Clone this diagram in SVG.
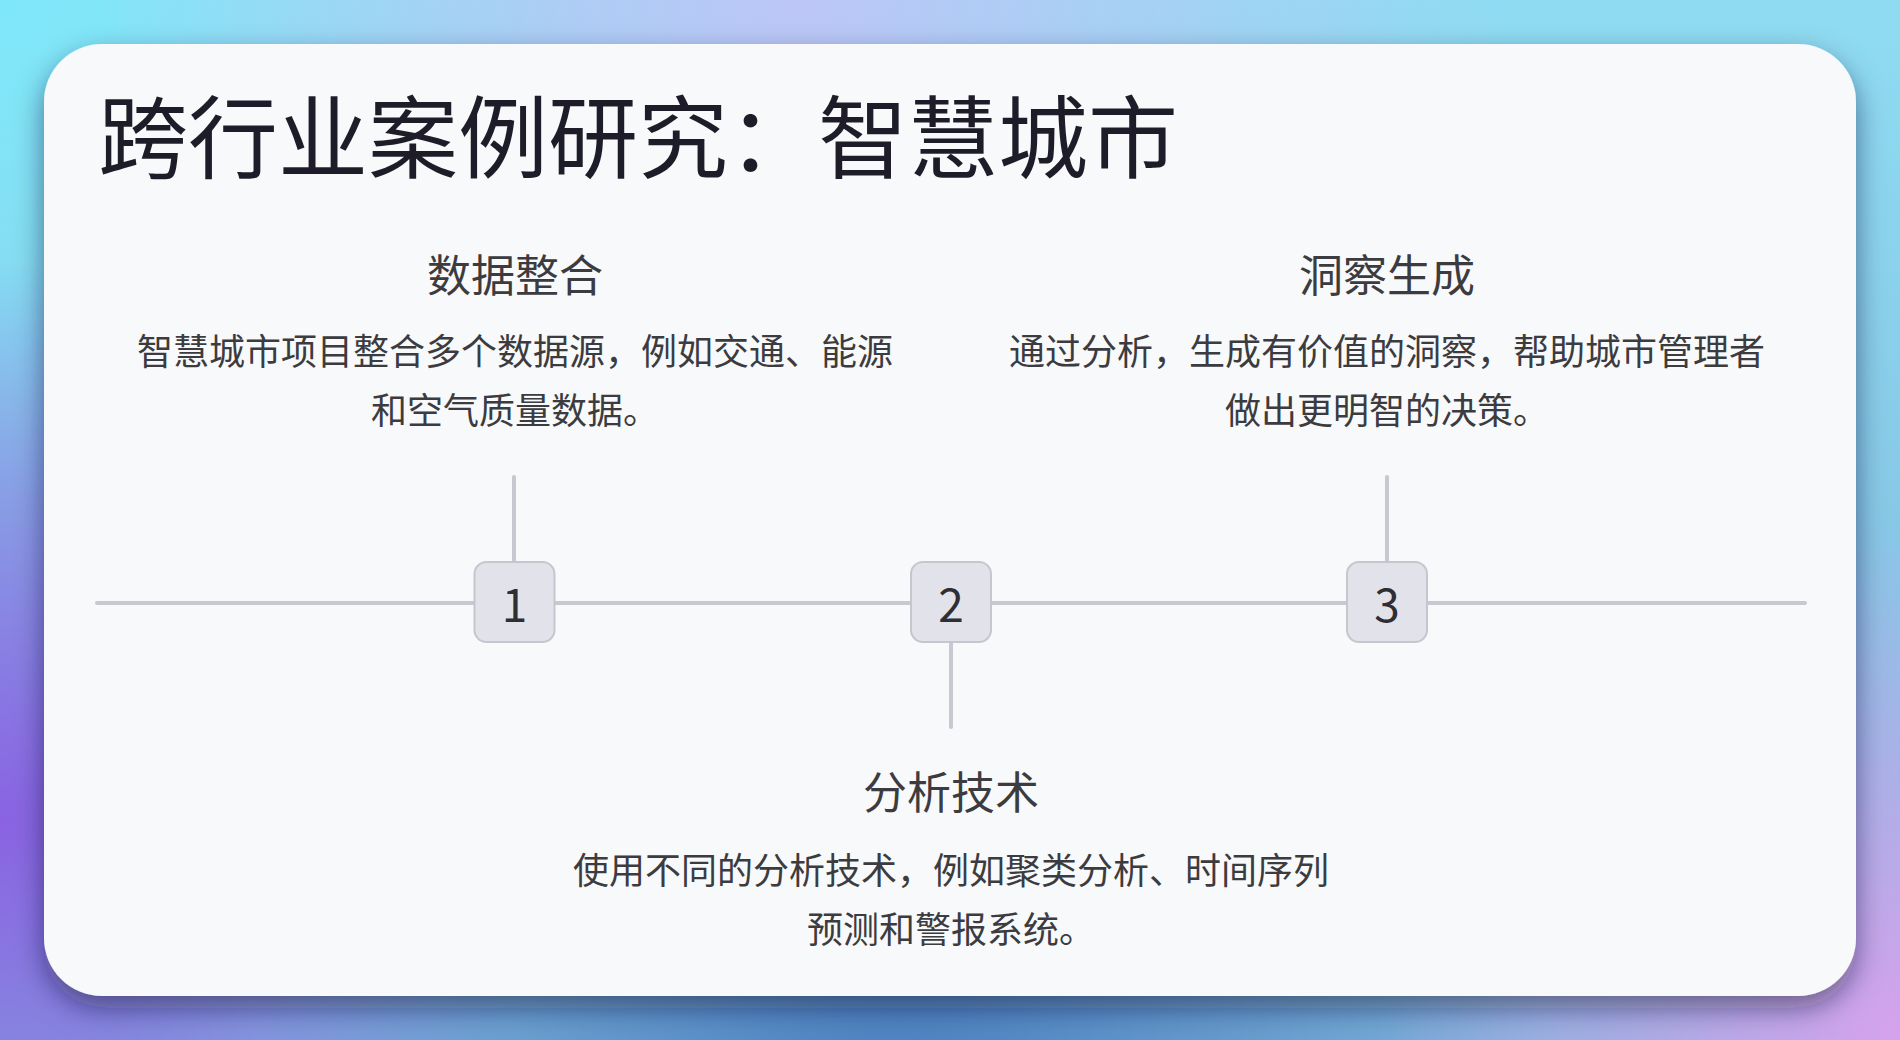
<svg xmlns="http://www.w3.org/2000/svg" width="1900" height="1040" viewBox="0 0 1900 1040">
  <defs>
    <linearGradient id="bgBase" x1="0" y1="0" x2="0" y2="1">
      <stop offset="0" stop-color="#8fdcf2"/>
      <stop offset="1" stop-color="#7fb4dc"/>
    </linearGradient>
    <radialGradient id="bgTop" cx="800" cy="0" r="700" gradientUnits="userSpaceOnUse">
      <stop offset="0" stop-color="#bcc6f7" stop-opacity="1"/>
      <stop offset="1" stop-color="#bcc6f7" stop-opacity="0"/>
    </radialGradient>
    <radialGradient id="bgTL" cx="0" cy="0" r="500" gradientUnits="userSpaceOnUse">
      <stop offset="0" stop-color="#7ee8fa" stop-opacity="1"/>
      <stop offset="1" stop-color="#7ee8fa" stop-opacity="0"/>
    </radialGradient>
    <radialGradient id="bgBL" cx="0" cy="820" r="560" gradientUnits="userSpaceOnUse">
      <stop offset="0" stop-color="#8a62e2" stop-opacity="1"/>
      <stop offset="1" stop-color="#8a62e2" stop-opacity="0"/>
    </radialGradient>
    <radialGradient id="bgBC" cx="900" cy="1100" r="650" gradientUnits="userSpaceOnUse">
      <stop offset="0" stop-color="#4a7fc0" stop-opacity="1"/>
      <stop offset="1" stop-color="#4a7fc0" stop-opacity="0"/>
    </radialGradient>
    <radialGradient id="bgBR" cx="1900" cy="1040" r="520" gradientUnits="userSpaceOnUse">
      <stop offset="0" stop-color="#d6a2ee" stop-opacity="1"/>
      <stop offset="1" stop-color="#d6a2ee" stop-opacity="0"/>
    </radialGradient>
    <filter id="shadow" x="-10%" y="-10%" width="120%" height="125%">
      <feDropShadow dx="0" dy="12" stdDeviation="14" flood-color="#0c1430" flood-opacity="0.5"/>
    </filter>
    <style>
      .title { font-family: "Noto Sans CJK SC", "Noto Sans", sans-serif; font-size: 90px; fill: #1d1c28; }
      .head { font-family: "Noto Sans CJK SC", "Noto Sans", sans-serif; font-size: 44px; fill: #3c3c40; text-anchor: middle; }
      .desc { font-family: "Noto Sans CJK SC", "Noto Sans", sans-serif; font-size: 36px; fill: #3c3c40; text-anchor: middle; }
      .num { font-family: "Noto Sans CJK SC", "Noto Sans", sans-serif; font-size: 46px; fill: #2e2e34; text-anchor: middle; }
      .box { fill: #e2e3ea; stroke: #c6c6ce; stroke-width: 2; }
      .line { stroke: #c8c8d0; stroke-width: 4; stroke-linecap: round; fill: none; }
    </style>
  </defs>

  <g id="background">
    <rect width="1900" height="1040" fill="url(#bgBase)"/>
    <rect width="1900" height="1040" fill="url(#bgTL)"/>
    <rect width="1900" height="1040" fill="url(#bgTop)"/>
    <rect width="1900" height="1040" fill="url(#bgBL)"/>
    <rect width="1900" height="1040" fill="url(#bgBC)"/>
    <rect width="1900" height="1040" fill="url(#bgBR)"/>
  </g>

  <g id="card">
    <rect x="44" y="44" width="1812" height="952" rx="58" ry="58" fill="#f8f9fb" filter="url(#shadow)"/>
  </g>

  <g id="title">
    <text class="title" x="98" y="171">跨行业案例研究：智慧城市</text>
  </g>

  <g id="connectors">
    <line class="line" x1="97" y1="603" x2="1805" y2="603"/>
    <line class="line" x1="514" y1="477" x2="514" y2="562"/>
    <line class="line" x1="1387" y1="477" x2="1387" y2="562"/>
    <line class="line" x1="951" y1="642" x2="951" y2="727"/>
  </g>

  <g id="node-1">
    <rect class="box" x="474.5" y="562" width="80" height="80" rx="12"/>
    <text class="num" x="514.5" y="622">1</text>
    <text class="head" x="515" y="292">数据整合</text>
    <text class="desc" x="515" y="365">智慧城市项目整合多个数据源，例如交通、能源</text>
    <text class="desc" x="515" y="424">和空气质量数据。</text>
  </g>

  <g id="node-2">
    <rect class="box" x="911" y="562" width="80" height="80" rx="12"/>
    <text class="num" x="951" y="622">2</text>
    <text class="head" x="951" y="809">分析技术</text>
    <text class="desc" x="951" y="884">使用不同的分析技术，例如聚类分析、时间序列</text>
    <text class="desc" x="951" y="943">预测和警报系统。</text>
  </g>

  <g id="node-3">
    <rect class="box" x="1347" y="562" width="80" height="80" rx="12"/>
    <text class="num" x="1387" y="622">3</text>
    <text class="head" x="1387" y="292">洞察生成</text>
    <text class="desc" x="1387" y="365">通过分析，生成有价值的洞察，帮助城市管理者</text>
    <text class="desc" x="1387" y="424">做出更明智的决策。</text>
  </g>
</svg>
